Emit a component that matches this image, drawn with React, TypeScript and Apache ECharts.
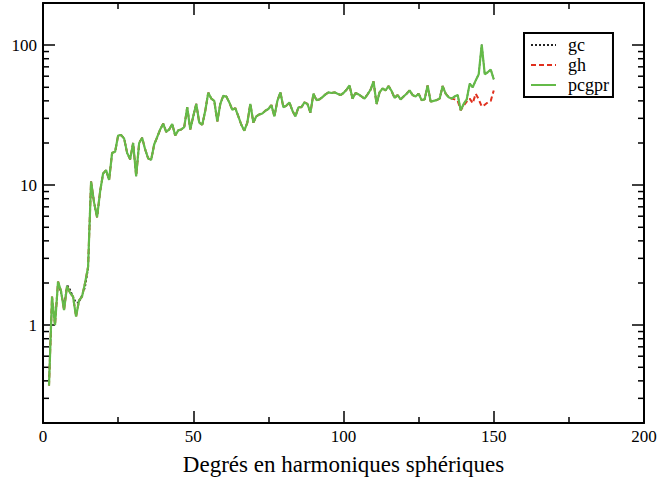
import React, { useEffect, useRef } from "react";
import * as echarts from "echarts";

const firstDegree = 2;
// pcgpr values for degrees 2..150
const pcgpr = [
  0.37, 1.6, 1.0, 2.05, 1.75, 1.28, 1.9, 1.7, 1.6, 1.15,
  1.5, 1.6, 2.0, 2.6, 10.6, 7.5, 5.9, 9.0, 12.1, 12.8,
  10.9, 17.0, 17.3, 22.6, 22.8, 21.5, 17.0, 15.3, 20.0, 11.6,
  20.0, 21.8, 18.0, 15.5, 15.2, 19.5, 22.0, 25.0, 27.5, 24.0,
  25.0, 27.3, 22.6, 24.6, 25.0, 26.0, 36.0, 25.0, 31.0, 38.0,
  28.0, 27.0, 34.0, 45.8, 41.5, 40.0, 28.5, 38.0, 43.5, 43.0,
  39.0, 34.5, 35.5, 31.0, 27.0, 24.5, 28.0, 38.0, 28.0, 31.0,
  32.0, 32.5, 34.0, 35.0, 37.3, 31.0, 40.0, 46.0, 36.0, 37.0,
  39.0, 34.0, 31.0, 36.0, 36.0, 39.0, 38.0, 33.0, 45.0, 40.5,
  41.0, 42.5, 44.5, 46.0, 45.5, 46.0, 45.0, 44.0, 45.5, 48.0,
  51.5, 41.5, 45.5, 44.5, 43.0, 41.5, 44.5, 48.0, 55.0, 38.0,
  46.0, 49.0, 47.5, 51.0, 47.0, 42.0, 44.0, 41.0, 43.0, 45.0,
  47.5, 44.0, 43.0, 45.0, 40.5, 41.0, 51.5, 39.5, 40.0, 40.5,
  41.5, 51.0, 45.0, 42.5, 41.5, 43.0, 44.0, 34.3, 38.0, 41.0,
  53.0, 50.0, 56.0, 62.0, 101.0, 62.0, 64.0, 67.0, 57.0,
];
const degrees = pcgpr.map((_, i) => firstDegree + i);

// gc differs from pcgpr at low degrees (2..16)
const gcLowStart = 2;
const gcLow = [0.4, 1.45, 1.05, 1.95, 1.7, 1.38, 1.95, 1.8, 1.6, 1.45, 1.45, 1.65, 1.85, 2.5, 10.6];
// gh differs from pcgpr at high degrees (135..150)
const ghHighStart = 135;
const ghHigh = [42.5, 41.5, 41.0, 40.0, 34.3, 37.0, 39.5, 41.5, 38.5, 45.0, 41.0, 36.5, 37.5, 39.0, 40.0, 47.5];

const yMinorTicks = [
  0.3, 0.4, 0.5, 0.6, 0.7, 0.8, 0.9,
  2, 3, 4, 5, 6, 7, 8, 9,
  20, 30, 40, 50, 60, 70, 80, 90,
];

const FONT = "'Liberation Serif', 'DejaVu Serif', serif";

export default function App() {
  const ref = useRef<HTMLDivElement>(null);
  useEffect(() => {
    if (!ref.current) return;
    const chart = echarts.init(ref.current, null, { renderer: "svg" });
    const gcData = degrees.map((d, i) => [
      d,
      d >= gcLowStart && d < gcLowStart + gcLow.length ? gcLow[d - gcLowStart] : pcgpr[i],
    ]);
    const ghData = degrees.map((d, i) => [
      d,
      d >= ghHighStart && d < ghHighStart + ghHigh.length ? ghHigh[d - ghHighStart] : pcgpr[i],
    ]);
    const pcData = degrees.map((d, i) => [d, pcgpr[i]]);

    const xCommon = {
      type: "value" as const,
      min: 0,
      max: 200,
      interval: 50,
      axisLine: { show: true, onZero: false, lineStyle: { color: "#000", width: 2 } },
      axisTick: { show: true, inside: true, length: 12, lineStyle: { color: "#000", width: 1.5 } },
      minorTick: { show: true, splitNumber: 2, length: 6, lineStyle: { color: "#000", width: 1.5 } },
      splitLine: { show: false },
    };
    const yCommon = {
      type: "log" as const,
      logBase: 10,
      min: 0.2,
      max: 200,
      axisLine: { show: true, onZero: false, lineStyle: { color: "#000", width: 2 } },
      axisTick: { show: true, inside: true, length: 12, lineStyle: { color: "#000", width: 1.5 } },
      splitLine: { show: false },
    };

    chart.setOption({
      animation: false,
      backgroundColor: "#fff",
      grid: { left: 43, top: 3, width: 601, height: 420, containLabel: false },
      legend: {
        orient: "vertical",
        left: 524,
        top: 33,
        data: ["gc", "gh", "pcgpr"],
        borderColor: "#000",
        borderWidth: 2,
        borderRadius: 0,
        padding: [3, 4, 3, 6],
        itemWidth: 25,
        itemHeight: 14,
        itemGap: 2,
        itemStyle: { opacity: 0 },
        textStyle: { fontFamily: FONT, fontSize: 18, lineHeight: 18, color: "#000", padding: [0, 0, 0, 7] },
      },
      xAxis: [
        {
          ...xCommon,
          position: "bottom",
          name: "Degrés en harmoniques sphériques",
          nameLocation: "middle",
          nameGap: 41,
          nameTextStyle: { fontFamily: FONT, fontSize: 23, color: "#000", verticalAlign: "middle" },
          axisLabel: { fontFamily: FONT, fontSize: 17, color: "#000", margin: 5 },
        },
        { ...xCommon, position: "top", axisLabel: { show: false } },
      ],
      yAxis: [
        {
          ...yCommon,
          position: "left",
          axisLabel: {
            fontFamily: FONT,
            fontSize: 17,
            color: "#000",
            margin: 6,
            formatter: (v: number) => {
              const l = Math.log10(v);
              return v >= 1 && Math.abs(l - Math.round(l)) < 1e-6 ? String(Math.round(v)) : "";
            },
          },
        },
        { ...yCommon, position: "right", axisLabel: { show: false } },
      ],
      series: [
        {
          name: "gc",
          type: "line",
          data: gcData,
          symbol: "none",
          lineStyle: { color: "#222", width: 1.5, type: [2, 2] },
          itemStyle: { color: "#222" },
        },
        {
          name: "gh",
          type: "line",
          data: ghData,
          symbol: "none",
          lineStyle: { color: "#e0301e", width: 2, type: [5, 3] },
          itemStyle: { color: "#e0301e" },
        },
        {
          name: "pcgpr",
          type: "line",
          data: pcData,
          symbol: "none",
          lineStyle: { color: "#64ba48", width: 2.2 },
          itemStyle: { color: "#64ba48" },
        },
        {
          name: "minorTicks",
          type: "custom",
          silent: true,
          clip: false,
          data: yMinorTicks.map((v) => [0, v]),
          encode: { x: 0, y: 1 },
          renderItem: (params: any, api: any) => {
            const v = api.value(1);
            const pL = api.coord([0, v]);
            const pR = api.coord([200, v]);
            const st = { stroke: "#000", lineWidth: 1.5 };
            return {
              type: "group",
              children: [
                { type: "line", shape: { x1: pL[0], y1: pL[1], x2: pL[0] + 6, y2: pL[1] }, style: st },
                { type: "line", shape: { x1: pR[0] - 6, y1: pR[1], x2: pR[0], y2: pR[1] }, style: st },
              ],
            };
          },
        },
      ],
    });
    return () => chart.dispose();
  }, []);
  return (
    <div
      ref={ref}
      style={{ position: "absolute", left: 0, top: 0, width: 668, height: 481 }}
    />
  );
}
